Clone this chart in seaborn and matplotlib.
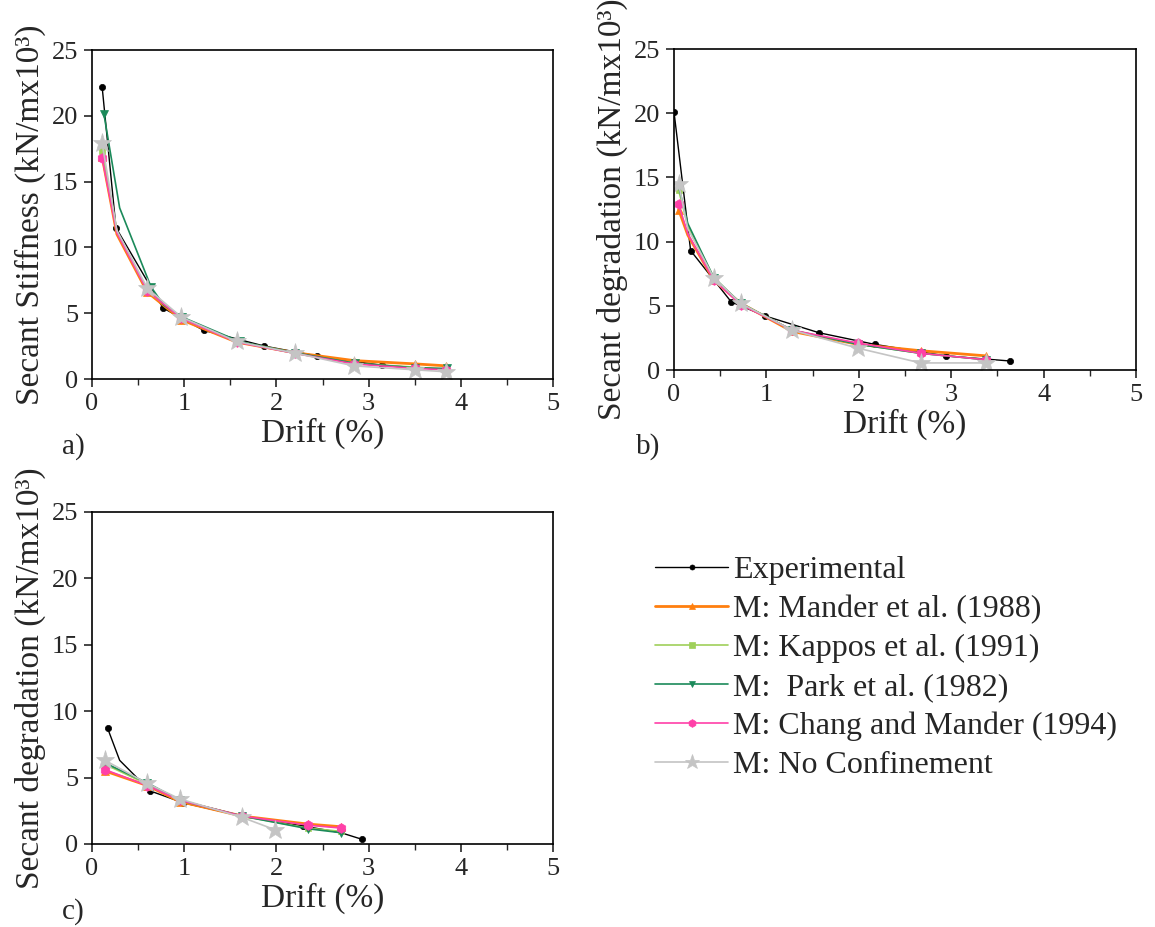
import numpy as np
import pandas as pd
import seaborn as sns
import matplotlib.pyplot as plt
from matplotlib.ticker import MultipleLocator

# ---- data ----
series_names = ['Experimental', 'M: Mander et al. (1988)', 'M: Kappos et al. (1991)',
                'M:  Park et al. (1982)', 'M: Chang and Mander (1994)', 'M: No Confinement']

# panel a) secant stiffness
a_exp_x = [0.11, 0.26, 0.77, 1.21, 1.87, 2.44, 3.14, 3.83]
a_exp_y = [22.2, 11.5, 5.4, 3.7, 2.5, 1.75, 1.05, 0.72]
a_mod_x = [0.11, 0.27, 0.60, 0.97, 1.57, 2.20, 2.84, 3.50, 3.84]
a_mander = [16.9, 11.0, 6.6, 4.5, 2.8, 2.0, 1.4, 1.15, 1.0]
a_kappos = [17.3, 11.2, 6.7, 4.6, 2.85, 1.95, 1.2, 0.9, 0.75]
a_park_x = [0.13, 0.30, 0.64, 0.78, 0.98, 1.60, 2.20, 2.85, 3.50, 3.85]
a_park = [20.1, 13.0, 7.0, 5.6, 4.7, 2.85, 2.0, 1.2, 0.85, 0.8]
a_chang = [16.8, 11.1, 6.7, 4.6, 2.8, 1.95, 1.15, 0.8, 0.7]
a_noconf = [17.9, 11.3, 6.9, 4.7, 2.85, 1.97, 1.0, 0.7, 0.55]

# panel b) secant degradation
b_exp_x = [0.0, 0.18, 0.62, 0.99, 1.57, 2.17, 2.94, 3.64]
b_exp_y = [20.1, 9.3, 5.3, 4.2, 2.9, 2.0, 1.1, 0.7]
b_mod_x = [0.05, 0.15, 0.43, 0.72, 1.28, 1.99, 2.67, 3.38]
b_mander = [12.5, 10.5, 7.0, 5.2, 3.0, 2.0, 1.5, 1.1]
b_kappos = [14.0, 11.2, 7.2, 5.2, 3.1, 2.0, 1.3, 0.8]
b_park = [14.3, 11.4, 7.2, 5.2, 3.1, 2.0, 1.3, 0.8]
b_chang = [12.9, 10.6, 7.0, 5.1, 3.1, 2.1, 1.3, 0.8]
b_noconf = [14.5, 11.0, 7.2, 5.2, 3.1, 1.7, 0.55, 0.55]

# panel c) secant degradation
c_exp_x = [0.17, 0.30, 0.63, 0.99, 1.63, 2.29, 2.70, 2.93]
c_exp_y = [8.7, 6.3, 4.0, 3.1, 2.1, 1.36, 0.85, 0.35]
c_mod_x = [0.14, 0.60, 0.95, 1.63, 2.34, 2.70]
c_mander = [5.5, 4.4, 3.2, 2.1, 1.5, 1.3]
c_kappos = [6.0, 4.5, 3.3, 2.1, 1.2, 0.95]
c_park = [6.1, 4.6, 3.3, 2.1, 1.15, 0.85]
c_chang = [5.6, 4.4, 3.3, 2.1, 1.42, 1.2]
c_noconf_x = [0.14, 0.60, 0.95, 1.63, 1.99]
c_noconf = [6.3, 4.56, 3.4, 2.0, 1.06]

# ---- styles ----
styles = {
    'Experimental': dict(color='black', marker='o', lw=1.0, ms=4.5),
    'M: Mander et al. (1988)': dict(color='#FF7F0E', marker='^', lw=2.0, ms=6),
    'M: Kappos et al. (1991)': dict(color='#9FD05A', marker='s', lw=1.2, ms=5),
    'M:  Park et al. (1982)': dict(color='#1B8A5A', marker='v', lw=1.2, ms=6),
    'M: Chang and Mander (1994)': dict(color='#FF40A8', marker='h', lw=1.2, ms=7),
    'M: No Confinement': dict(color='#C4C4C4', marker='*', lw=1.2, ms=14),
}

panels = {
    'a': [(a_exp_x, a_exp_y), (a_mod_x, a_mander), (a_mod_x, a_kappos),
          (a_park_x, a_park), (a_mod_x, a_chang), (a_mod_x, a_noconf)],
    'b': [(b_exp_x, b_exp_y), (b_mod_x, b_mander), (b_mod_x, b_kappos),
          (b_mod_x, b_park), (b_mod_x, b_chang), (b_mod_x, b_noconf)],
    'c': [(c_exp_x, c_exp_y), (c_mod_x, c_mander), (c_mod_x, c_kappos),
          (c_mod_x, c_park), (c_mod_x, c_chang), (c_noconf_x, c_noconf)],
}

# points drawn without a symbol (line vertices only)
no_marker = {
    ('a', 1): [1], ('a', 2): [1], ('a', 3): [1, 3], ('a', 4): [1], ('a', 5): [1],
    ('b', 1): [1], ('b', 2): [1], ('b', 3): [1], ('b', 4): [1], ('b', 5): [1],
    ('c', 0): [1, 6],
}

sns.set_style('ticks')
plt.rcParams['font.family'] = ['Liberation Serif', 'DejaVu Serif']
plt.rcParams['axes.linewidth'] = 1.2

fig = plt.figure(figsize=(11.55, 9.27), dpi=100)
W, H = 1155, 927
boxes = {
    'a': (92, 50, 553, 379),
    'b': (674, 49, 1136, 370),
    'c': (92, 512, 553, 844),
}
ylabels = {
    'a': 'Secant Stiffness (kN/mx10³)',
    'b': 'Secant degradation (kN/mx10³)',
    'c': 'Secant degradation (kN/mx10³)',
}

handles = None
for key, (l, t, r, b) in boxes.items():
    ax = fig.add_axes([l / W, 1 - b / H, (r - l) / W, (b - t) / H])
    for i, (name, (xs, ys)) in enumerate(zip(series_names, panels[key])):
        st = styles[name]
        df = pd.DataFrame({'x': xs, 'y': ys})
        skip = no_marker.get((key, i), [])
        every = [j for j in range(len(xs)) if j not in skip]
        sns.lineplot(data=df, x='x', y='y', ax=ax, color=st['color'], marker=st['marker'],
                     linewidth=st['lw'], markersize=st['ms'], markeredgecolor=st['color'],
                     markeredgewidth=0.5, markevery=every, label=name, sort=False,
                     legend=False)
    ax.set_xlim(0, 5)
    ax.set_ylim(0, 25)
    ax.xaxis.set_major_locator(MultipleLocator(1))
    ax.xaxis.set_minor_locator(MultipleLocator(0.5))
    ax.yaxis.set_major_locator(MultipleLocator(5))
    ax.tick_params(axis='both', which='major', direction='out', length=6, width=1.2,
                   labelsize=19, pad=4)
    ax.tick_params(axis='x', which='minor', direction='out', length=4, width=1.0)
    for sp in ax.spines.values():
        sp.set_visible(True)
        sp.set_color('black')
        sp.set_linewidth(1.2)
    ax.set_xlabel('Drift (%)', fontsize=24, labelpad=2)
    ax.set_ylabel(ylabels[key], fontsize=24, labelpad=4)
    if handles is None:
        handles, labels = ax.get_legend_handles_labels()

fig.text(62 / W, 1 - 447 / H, 'a)', fontsize=21, va='center')
fig.text(636 / W, 1 - 447 / H, 'b)', fontsize=21, va='center')
fig.text(62 / W, 1 - 912 / H, 'c)', fontsize=21, va='center')

fig.legend(handles, labels, loc='upper left', bbox_to_anchor=(655 / W, 1 - 556 / H),
           frameon=False, fontsize=23, handlelength=2.3, handletextpad=0.15,
           labelspacing=0.3, borderpad=0, borderaxespad=0, markerscale=0.8)

fig.savefig('out.png', dpi=100)
